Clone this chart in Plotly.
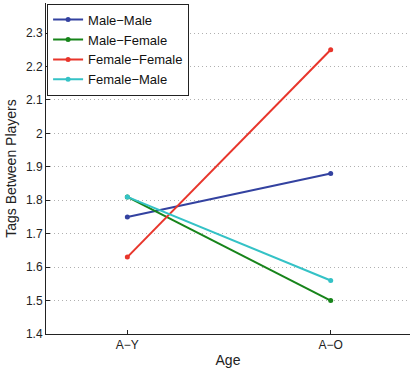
import plotly.graph_objects as go

categories = ["A\u2212Y", "A\u2212O"]
male_male = [1.75, 1.88]
male_female = [1.81, 1.50]
female_female = [1.63, 2.25]
female_male = [1.81, 1.56]

series = [
    ("Male\u2212Male", male_male, "#3342a0"),
    ("Male\u2212Female", male_female, "#17841a"),
    ("Female\u2212Female", female_female, "#e8352b"),
    ("Female\u2212Male", female_male, "#34c2c6"),
]

xpos = [1, 2]
fig = go.Figure()
for name, vals, col in series:
    fig.add_trace(go.Scatter(
        x=xpos, y=vals, name=name, mode="lines+markers",
        line=dict(color=col, width=2), marker=dict(color=col, size=5),
    ))

font = "Liberation Sans, Arial, sans-serif"
fig.update_layout(
    width=410, height=372,
    margin=dict(l=46, r=0, t=3, b=38, autoexpand=False),
    plot_bgcolor="white", paper_bgcolor="white",
    font=dict(family=font, size=12, color="#222"),
    showlegend=True,
    legend=dict(x=0.003, y=0.998, xanchor="left", yanchor="top",
                bgcolor="white", bordercolor="#222", borderwidth=1,
                font=dict(size=13, color="#111"), tracegroupgap=0,
                itemwidth=30),
    xaxis=dict(range=[0.6, 2.39], tickvals=xpos, ticktext=categories,
               showgrid=False, zeroline=False, showline=True,
               linecolor="#222", linewidth=1, ticks="inside", ticklen=4,
               tickcolor="#222", automargin=False,
               title=dict(text="Age", standoff=3, font=dict(size=14))),
    yaxis=dict(range=[1.4, 2.39], tickvals=[1.4, 1.5, 1.6, 1.7, 1.8, 1.9, 2.0, 2.1, 2.2, 2.3],
               ticktext=["1.4", "1.5", "1.6", "1.7", "1.8", "1.9", "2", "2.1", "2.2", "2.3"],
               showgrid=True, gridcolor="#b0b0b0", griddash="1px,3px", gridwidth=1,
               zeroline=False, showline=True, linecolor="#222", linewidth=1,
               ticks="inside", ticklen=4, tickcolor="#222", automargin=False,
               title=dict(text="Tags Between Players", standoff=6, font=dict(size=14))),
)
fig.write_html("out.html", config={"displayModeBar": False},
               post_script="document.body.style.margin='0';")
